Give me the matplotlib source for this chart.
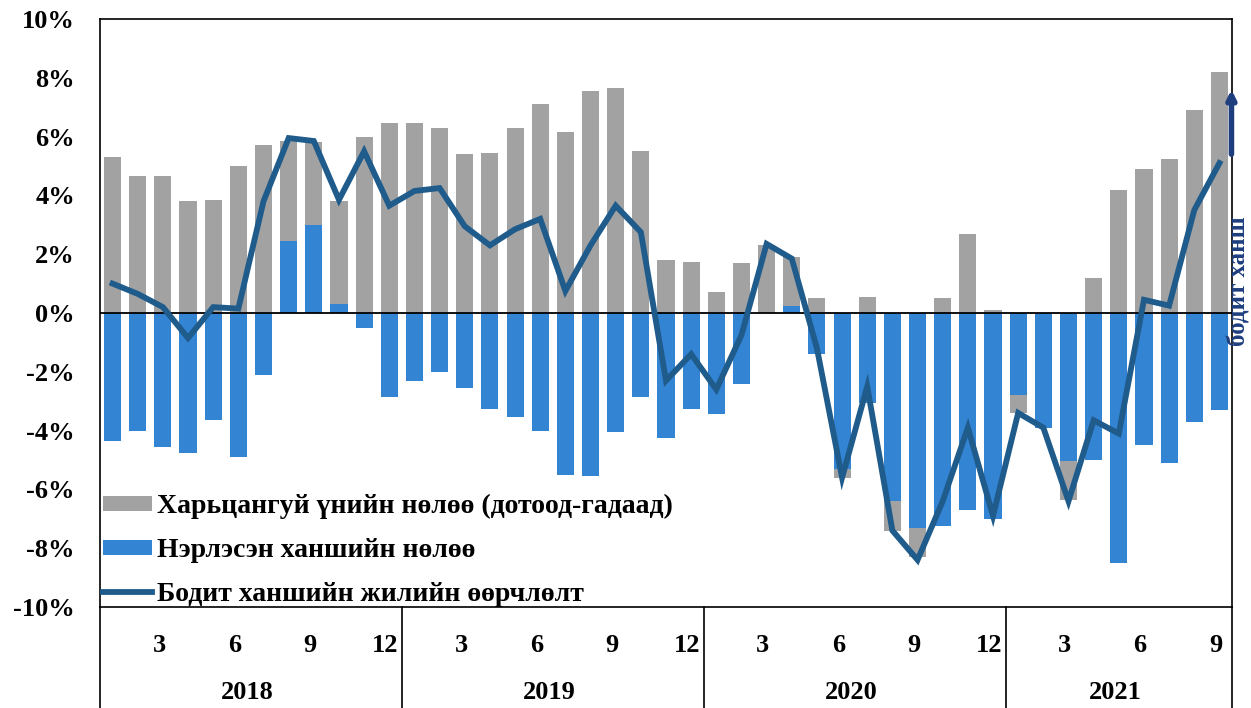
import matplotlib
matplotlib.use('Agg')
import matplotlib.pyplot as plt
import numpy as np
from matplotlib.ticker import FuncFormatter, MultipleLocator
from matplotlib.patches import Patch
from matplotlib.lines import Line2D
import matplotlib.transforms as mtransforms

# ---- data (Jan 2018 .. Sep 2021, monthly, %) ----
years = ['2018', '2019', '2020', '2021']
month_labels = ['3', '6', '9', '12']

relative_price = [5.3, 4.65, 4.65, 3.8, 3.85, 5.0, 5.7, 3.4, 2.8, 3.5, 6.0, 6.45,
                  6.45, 6.3, 5.4, 5.45, 6.3, 7.1, 6.15, 7.55, 7.65, 5.5, 1.8, 1.75,
                  0.7, 1.7, 2.3, 1.65, 0.5, -0.3, 0.55, -1.0, -1.0, 0.5, 2.7, 0.1,
                  -0.6, 0.0, -1.3, 1.2, 4.2, 4.9, 5.25, 6.9, 8.2]
nominal_rate = [-4.35, -4.0, -4.55, -4.75, -3.65, -4.9, -2.1, 2.45, 3.0, 0.3, -0.5, -2.85,
                -2.3, -2.0, -2.55, -3.25, -3.55, -4.0, -5.5, -5.55, -4.05, -2.85, -4.25, -3.25,
                -3.45, -2.4, 0.0, 0.25, -1.4, -5.3, -3.05, -6.4, -7.3, -7.25, -6.7, -7.0,
                -2.8, -3.9, -5.05, -5.0, -8.5, -4.5, -5.1, -3.7, -3.3]
real_rate_yoy = [1.0, 0.65, 0.2, -0.85, 0.2, 0.15, 3.8, 5.95, 5.85, 3.85, 5.5, 3.65,
                 4.15, 4.25, 2.95, 2.3, 2.85, 3.2, 0.75, 2.3, 3.65, 2.75, -2.3, -1.4,
                 -2.6, -0.75, 2.35, 1.85, -1.2, -5.6, -2.5, -7.4, -8.4, -6.4, -3.9, -6.9,
                 -3.4, -3.9, -6.4, -3.65, -4.1, 0.45, 0.25, 3.5, 5.1]

legend_labels = ['Харьцангуй үнийн нөлөө (дотоод-гадаад)',
                 'Нэрлэсэн ханшийн нөлөө',
                 'Бодит ханшийн жилийн өөрчлөлт']
side_label = 'бодит ханш'

GRAY = '#A2A2A2'
BLUE = '#3484D4'
LINE = '#1F5B8B'
NAVY = '#1E3E7E'

plt.rcParams['font.family'] = ['Liberation Serif', 'DejaVu Serif']
plt.rcParams['font.weight'] = 'bold'

fig = plt.figure(figsize=(12.51, 7.08), dpi=100)
ax = fig.add_axes([100 / 1251, 1 - 607 / 708, 1132 / 1251, 588 / 708])

x = np.arange(len(nominal_rate))
blue = np.array(nominal_rate)
gray = np.array(relative_price)
blue_pos = np.clip(blue, 0, None)
blue_neg = np.clip(blue, None, 0)
gray_pos = np.clip(gray, 0, None)
gray_neg = np.clip(gray, None, 0)

w = 0.68
ax.bar(x, blue, width=w, color=BLUE, zorder=2)
ax.bar(x, gray_pos, bottom=blue_pos, width=w, color=GRAY, zorder=2)
ax.bar(x, gray_neg, bottom=blue_neg, width=w, color=GRAY, zorder=2)
ax.plot(x, real_rate_yoy, color=LINE, lw=4.2, zorder=4, solid_joinstyle='miter')
ax.axhline(0, color='black', lw=1.3, zorder=3)

ax.set_xlim(-0.5, len(x) - 0.5)
ax.set_ylim(-10, 10)
ax.yaxis.set_major_locator(MultipleLocator(2))
ax.yaxis.set_major_formatter(FuncFormatter(lambda v, p: f'{v:.0f}%'))
ax.tick_params(axis='y', length=0, pad=18, labelsize=19)
ax.set_xticks([])
for s in ax.spines.values():
    s.set_linewidth(1.2)
    s.set_color('black')

# category axis drawn as a table below the plot
trans = mtransforms.blended_transform_factory(ax.transData, ax.transAxes)
for yi, yr in enumerate(years):
    for mi, ml in enumerate(month_labels):
        idx = yi * 12 + (mi + 1) * 3 - 1
        if idx < len(x):
            ax.text(idx - 0.15, -0.066, ml, transform=trans, ha='center', va='center',
                    fontsize=19, fontweight='bold')
    start = yi * 12
    end = min(start + 12, len(x))
    ax.text((start + end - 1) / 2 - 0.15, -0.146, yr, transform=trans, ha='center',
            va='center', fontsize=19, fontweight='bold')
for b in [11.5, 23.5, 35.5, -0.5, len(x) - 0.5]:
    ax.plot([b, b], [0, -0.175], transform=trans, color='black', lw=1.2,
            clip_on=False)

# legend
handles = [Patch(facecolor=GRAY), Patch(facecolor=BLUE),
           Line2D([0], [0], color=LINE, lw=4.2)]
leg = ax.legend(handles, legend_labels, loc='lower left',
                bbox_to_anchor=(-0.007, -0.019), frameon=False, fontsize=20,
                handlelength=1.76, handleheight=0.45, handletextpad=0.18,
                labelspacing=0.68, borderaxespad=0.0, borderpad=0.4)

# arrow and side label on the right
tr2 = mtransforms.blended_transform_factory(ax.transAxes, ax.transData)
ax.annotate('', xy=(0.9995, 7.6), xytext=(0.9995, 5.4), xycoords=tr2,
            textcoords=tr2,
            arrowprops=dict(arrowstyle='-|>,head_width=0.25,head_length=0.5',
                            color=NAVY, lw=4, shrinkA=0, shrinkB=0))
fig.text(1250 / 1251, 1 - 281 / 708, side_label, rotation=90, ha='right',
         va='center', fontsize=18, fontweight='bold', color=NAVY)

fig.savefig('out.png', dpi=100)
